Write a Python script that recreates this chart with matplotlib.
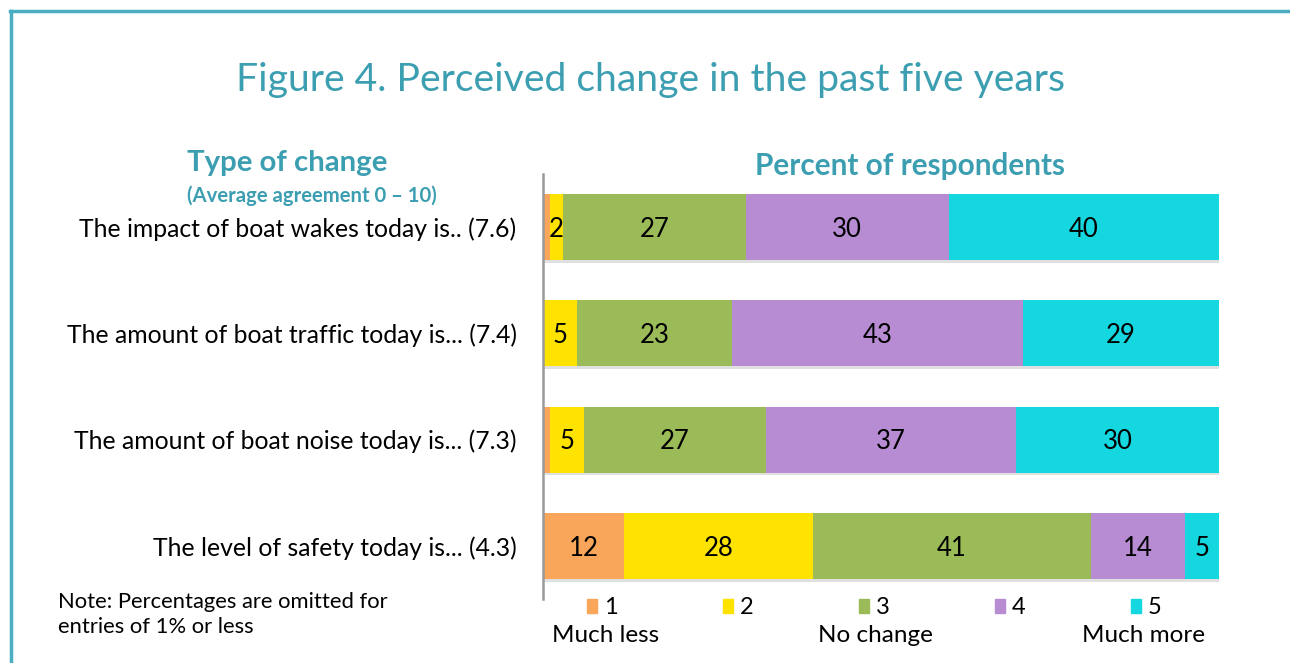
#!/usr/bin/env python3
"""Figure 4: perceived change in the past five years, stacked percent bars."""
import matplotlib
matplotlib.use("Agg")
import matplotlib.pyplot as plt
import matplotlib.patheffects as pe
from matplotlib.lines import Line2D
from matplotlib.patches import Rectangle

plt.rcParams["font.family"] = ["Lato", "DejaVu Sans"]

ITEMS = [
    "The impact of boat wakes today is.. (7.6)",
    "The amount of boat traffic today is... (7.4)",
    "The amount of boat noise today is... (7.3)",
    "The level of safety today is... (4.3)",
]
MUCH_LESS = [1, 0, 1, 12]
LESS = [2, 5, 5, 28]
NO_CHANGE = [27, 23, 27, 41]
MORE = [30, 43, 37, 14]
MUCH_MORE = [40, 29, 30, 5]
SERIES = [MUCH_LESS, LESS, NO_CHANGE, MORE, MUCH_MORE]
LEGEND_LABELS = ["1", "2", "3", "4", "5"]
SCALE_LABELS = ["Much less", "No change", "Much more"]

COLORS = ["#F9A65A", "#FFE300", "#9BBB59", "#B78CD3", "#14D7E0"]
TEAL = "#3C9EB1"
BORDER = "#4BADC2"

W, H = 1290, 663


def px(x, y):
    return x / W, 1 - y / H


def main() -> None:
    fig = plt.figure(figsize=(12.9, 6.63), dpi=100)
    fig.patch.set_facecolor("white")

    # frame lines (top and left)
    fig.add_artist(Line2D([10 / W, 1], [1 - 11 / H] * 2, color=BORDER, lw=2.5))
    fig.add_artist(Line2D([11 / W] * 2, [1 - 11 / H, 0], color=BORDER, lw=2.5))

    ax = fig.add_axes([543 / W, 64 / H, 676 / W, 425 / H])
    ypos = list(range(len(ITEMS)))
    left = [0] * len(ITEMS)
    shadow = [pe.SimplePatchShadow(offset=(1, -2), shadow_rgbFace="k", alpha=0.12),
              pe.Normal()]
    for vals, color in zip(SERIES, COLORS):
        bars = ax.barh(ypos, vals, left=left, height=0.62, color=color,
                       edgecolor="none")
        for b, v in zip(bars, vals):
            b.set_path_effects(shadow)
            if v > 1:
                ax.text(b.get_x() + b.get_width() / 2,
                        b.get_y() + b.get_height() / 2 + 0.02,
                        str(v), ha="center", va="center", fontsize=18.5, color="black")
        left = [l + v for l, v in zip(left, vals)]

    ax.set_xlim(0, 100)
    ax.set_ylim(len(ITEMS) - 0.5, -0.5)
    ax.set_xticks([])
    ax.set_yticks(ypos)
    ax.set_yticklabels(ITEMS, fontsize=17.8)
    ax.tick_params(axis="y", length=0, pad=19)
    for s in ["top", "right", "bottom"]:
        ax.spines[s].set_visible(False)
    ax.spines["left"].set_color("#9a9a9a")
    ax.spines["left"].set_linewidth(1.8)

    # titles
    fig.text(*px(650, 80), "Figure 4. Perceived change in the past five years",
             ha="center", va="center", fontsize=28.2, color=TEAL)
    fig.text(*px(287, 163), "Type of change", ha="center", va="center",
             fontsize=21.2, fontweight="bold", color=TEAL)
    fig.text(*px(312, 196), "(Average agreement 0 \u2013 10)", ha="center", va="center",
             fontsize=14.6, fontweight="bold", color=TEAL)
    fig.text(*px(910, 166), "Percent of respondents", ha="center", va="center",
             fontsize=21.4, fontweight="bold", color=TEAL)

    # legend
    for i, (lab, color) in enumerate(zip(LEGEND_LABELS, COLORS)):
        x0 = 587 + 136 * i
        fig.add_artist(Rectangle(px(x0, 613), 10 / W, 14 / H, color=color,
                                 transform=fig.transFigure))
        fig.text(*px(x0 + 17, 607), lab, ha="left", va="center", fontsize=17)
    for x, lab in zip([606, 875, 1144], SCALE_LABELS):
        fig.text(*px(x, 636), lab, ha="center", va="center", fontsize=17.5)

    fig.text(*px(58, 602), "Note: Percentages are omitted for", ha="left",
             va="center", fontsize=15.8)
    fig.text(*px(58, 627), "entries of 1% or less", ha="left",
             va="center", fontsize=15.8)

    fig.savefig("out.png", dpi=100, facecolor="white")


if __name__ == "__main__":
    main()
